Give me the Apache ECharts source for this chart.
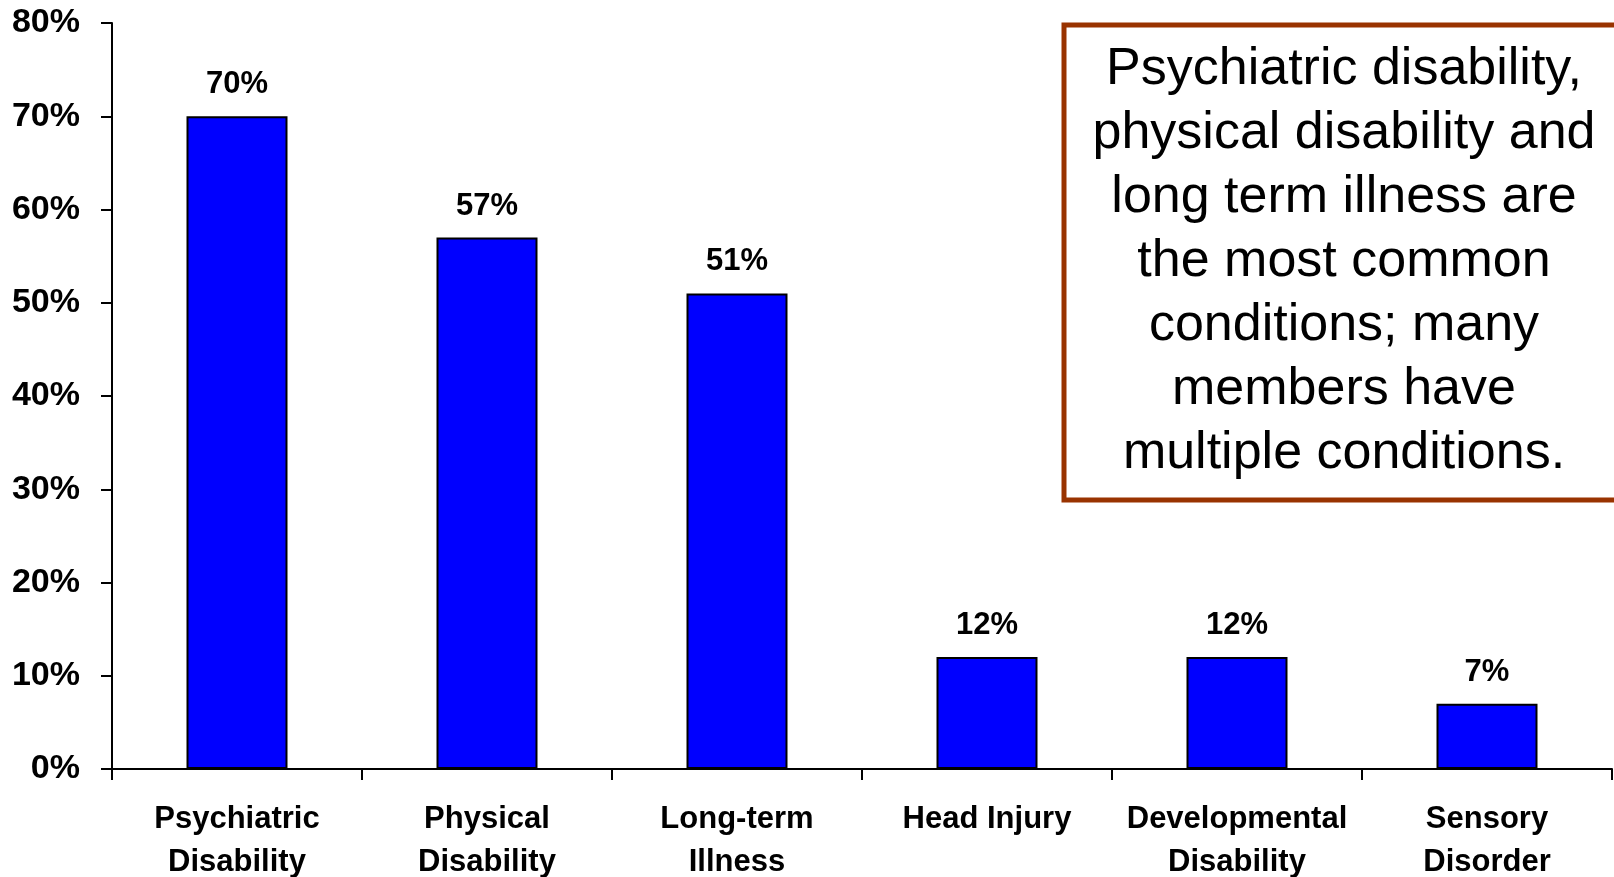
<!DOCTYPE html>
<html>
<head>
<meta charset="utf-8">
<script src="https://cdn.jsdelivr.net/npm/echarts@6/dist/echarts.min.js"></script>
<style>
    html,body{margin:0;padding:0;background:#fff;}
    #chart{width:1614px;height:877px;}
</style>
</head>
<body>
<div id="chart"></div>
<script>
var categories = ['Psychiatric\nDisability','Physical\nDisability','Long-term\nIllness','Head Injury','Developmental\nDisability','Sensory\nDisorder'];
var values = [70,57,51,12,12,7];
var yTicks = [0,10,20,30,40,50,60,70,80];
var noteLines = [
    'Psychiatric disability,',
    'physical disability and',
    'long term illness are',
    'the most common',
    'conditions; many',
    'members have',
    'multiple conditions.'
];

var font = '"Liberation Sans", Arial, sans-serif';
var myChart = echarts.init(document.getElementById('chart'));
myChart.setOption({
    animation:false,
    backgroundColor:'#fff',
    grid:{left:112,right:2,top:23,bottom:108,containLabel:false,outerBoundsMode:'none'},
    xAxis:{
        type:'category',
        data:categories,
        axisLine:{lineStyle:{color:'#000',width:2}},
        axisTick:{show:true,length:11,alignWithLabel:false,lineStyle:{color:'#000',width:2}},
        axisLabel:{
            interval:0,
            margin:29,
            color:'#000',
            fontFamily:font,
            fontWeight:'bold',
            fontSize:31,
            lineHeight:43
        }
    },
    yAxis:{
        type:'value',
        min:yTicks[0],
        max:yTicks[yTicks.length-1],
        interval:10,
        splitLine:{show:false},
        axisLine:{show:true,lineStyle:{color:'#000',width:2}},
        axisTick:{show:true,length:11,lineStyle:{color:'#000',width:2}},
        axisLabel:{
            margin:32,
            color:'#000',
            fontFamily:font,
            fontWeight:'bold',
            fontSize:34,
            formatter:'{value}%'
        }
    },
    series:[{
        type:'bar',
        data:values,
        barWidth:101,
        itemStyle:{color:'#0000ff',borderColor:'#000',borderWidth:2},
        label:{
            show:true,
            position:'top',
            distance:16,
            color:'#000',
            fontFamily:font,
            fontWeight:'bold',
            fontSize:31,
            formatter:'{c}%'
        }
    }],
    graphic:[
        {
            type:'rect',
            shape:{x:1064,y:25,width:600,height:475},
            style:{fill:'#fff',stroke:'#993300',lineWidth:5},
            z:10
        },
        {
            type:'text',
            x:1344,
            y:262,
            z:11,
            style:{
                text:noteLines.join('\n'),
                fill:'#000',
                font:'52px ' + font,
                lineHeight:64,
                textAlign:'center',
                textVerticalAlign:'middle'
            }
        }
    ]
});
</script>
</body>
</html>
